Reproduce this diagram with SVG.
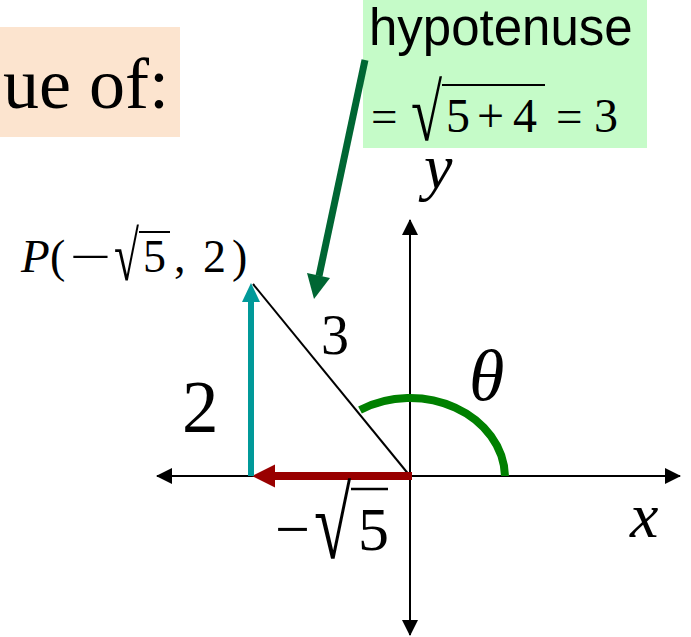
<svg xmlns="http://www.w3.org/2000/svg" width="691" height="637" viewBox="0 0 691 637">
<style>
.serif{font-family:"Liberation Serif","Times New Roman",serif;fill:#000}
.it{font-style:italic}
.sans{font-family:"Liberation Sans",Arial,sans-serif;fill:#000}
.axis{stroke:#000;stroke-width:2;fill:none}
</style>
<defs>
<marker id="blk" viewBox="0 0 16 16" refX="15" refY="8" markerWidth="16" markerHeight="16" markerUnits="userSpaceOnUse" orient="auto"><path d="M0,0 L16,8 L0,16 Z" fill="#000"/></marker>
</defs>
<g id="title">
<rect x="0" y="27" width="180" height="110" fill="#FCE4CF"/>
<text class="serif" x="169" y="108" font-size="72" text-anchor="end">ue of:</text>
</g>
<g id="hypotenuse-note">
<rect x="363" y="0" width="284" height="148" fill="#C5FBC8"/>
<text class="sans" x="369" y="45" font-size="51">hypotenuse</text>
<text class="serif" x="371" y="132" font-size="47">=</text>
<text class="serif" transform="translate(411,140) scale(0.7,1)" font-size="81">√</text>
<line x1="442" y1="85" x2="545" y2="85" stroke="#000" stroke-width="2"/>
<text class="serif" x="446" y="132" font-size="48">5</text>
<text class="serif" x="477" y="132" font-size="48">+</text>
<text class="serif" x="513" y="132" font-size="48">4</text>
<text class="serif" x="556" y="132" font-size="47">=</text>
<text class="serif" x="594" y="132" font-size="48">3</text>
</g>
<g id="connectors">
<line class="axis" x1="410" y1="476" x2="157" y2="476" marker-end="url(#blk)"/>
<line class="axis" x1="410" y1="476" x2="680" y2="476" marker-end="url(#blk)"/>
<line class="axis" x1="410" y1="476" x2="410" y2="220" marker-end="url(#blk)"/>
<line class="axis" x1="410" y1="476" x2="410" y2="635" marker-end="url(#blk)"/>
<line x1="253" y1="284" x2="410" y2="476" stroke="#000" stroke-width="2"/>
<path d="M505,476 A95,80 0 0 0 360,410" fill="none" stroke="#008000" stroke-width="8"/>
<line x1="412" y1="476" x2="272" y2="476" stroke="#990000" stroke-width="8"/>
<path d="M252,476 L275,464.5 L275,487.5 Z" fill="#990000"/>
<line x1="251" y1="476" x2="251" y2="300" stroke="#009999" stroke-width="6"/>
<path d="M251,283 L260,302 L242,302 Z" fill="#009999"/>
<line x1="365" y1="60" x2="319" y2="276" stroke="#006633" stroke-width="7"/>
<path d="M314,299 L307,273 L330,278 Z" fill="#006633"/>
</g>
<g id="point-label">
<text class="serif it" x="21" y="272" font-size="47">P</text>
<text class="serif" x="50" y="272" font-size="46">(</text>
<text class="serif" transform="translate(70,272) scale(1.6,1)" font-size="46">−</text>
<text class="serif" transform="translate(114,280) scale(0.65,1)" font-size="70">√</text>
<line x1="139" y1="232" x2="170" y2="232" stroke="#000" stroke-width="2"/>
<text class="serif" x="143" y="272" font-size="46">5</text>
<text class="serif" x="174" y="272" font-size="46">,</text>
<text class="serif" x="203" y="272" font-size="46">2</text>
<text class="serif" x="232" y="272" font-size="46">)</text>
</g>
<g id="labels">
<text class="serif" x="321" y="354" font-size="56">3</text>
<text class="serif" x="182" y="432" font-size="73">2</text>
<text class="serif it" x="469" y="400" font-size="72">θ</text>
<text class="serif it" x="630" y="537" font-size="64">x</text>
<text class="serif it" x="424" y="188" font-size="64">y</text>
<text class="serif" x="275" y="550" font-size="62">−</text>
<text class="serif" transform="translate(314,558) scale(0.67,1)" font-size="101">√</text>
<line x1="351" y1="489" x2="388" y2="489" stroke="#000" stroke-width="2.5"/>
<text class="serif" x="358" y="550" font-size="62">5</text>
</g>
</svg>
